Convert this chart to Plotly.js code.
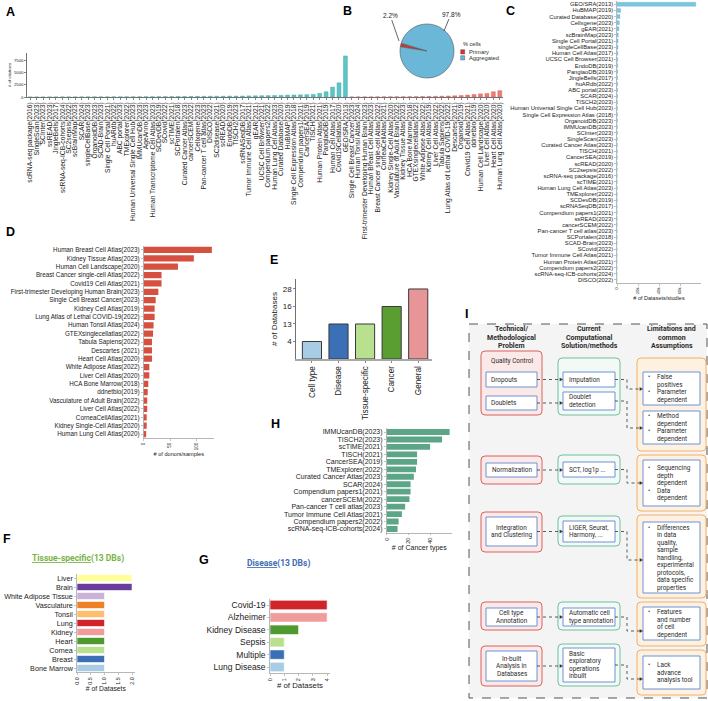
<!DOCTYPE html>
<html><head><meta charset="utf-8">
<script src="https://cdn.plot.ly/plotly-3.0.1.min.js"></script>
<style>html,body{margin:0;padding:0;background:#fff}#chart{width:708px;height:701px}</style>
</head><body><div id="chart"></div>
<script>
// ---------------- DATA ----------------
// A: citations (aggregated / primary)
const aggNames = ['scRNA-seq package(2016)','SingleScan(2023)','SCInter(2023)','ssREAD(2023)','JingleBells(2017)','scRNA-seq-ICB-cohorts(2024)','SC2sepsis(2022)','scBrainMap(2023)','SCAR(2024)','singleCellBase(2023)','OrganoidDB(2023)','SCAD-Brain(2023)','Single Cell Portal(2021)','huARdb(2022)','ABC portal(2023)','TMExplorer(2022)','Human Universal Single Cell Hub(2023)','IMMUcanDB(2023)','AgeAnno(2023)','Human Transcriptome Cell Atlas(2023)','SCDevDB(2019)','SCovid(2022)','scTIME(2021)','SCPortalen(2018)','Curated Cancer Atlas(2023)','cancerSCEM(2022)','Cellxgene(2023)','Pan-cancer T cell atlas(2023)','DISCO(2022)','SC2disease(2021)','scREAD(2020)','EndoDB(2019)','TISCH2(2023)','scRNASeqDB(2017)','Tumor Immune Cell Atlas(2021)','gEAR(2021)','UCSC Cell Browser(2021)','Compendium papers2(2022)','Human Lung Cell Atlas(2023)','Curated Database(2020)','HuBMAP(2019)','Single Cell Expression Atlas(2018)','Compendium papers1(2021)','CancerSEA(2019)','TISCH(2021)','Human Protein Atlas(2021)','PanglaoDB(2019)','Human Cell Atlas(2017)','Covid19Cellatlas(2020)','GEO/SRA(2013)'];
const aggCites = [10,12,15,18,20,22,25,28,30,33,35,38,40,45,48,50,55,60,65,70,75,80,90,100,110,120,130,140,150,160,170,180,190,210,230,250,270,290,310,330,400,420,450,480,550,750,1080,2030,2900,8400];
const primNames = ['Single Cell Breast Cancer(2023)','Human Tonsil Atlas(2024)','First-trimester Developing Human Brain(2023)','Human Breast Cell Atlas(2023)','Breast Cancer single-cell Atlas(2022)','CorneaCellAtlas(2021)','Kidney Single-Cell Atlas(2020)','Vasculature of Adult Brain(2022)','Kidney Tissue Atlas(2023)','HCA Bone Marrow(2018)','GTEXsinglecellatlas(2022)','White Adipose Atlas(2022)','Kidney Cell Atlas(2019)','Liver Cell Atlas(2022)','Tabula Sapiens(2022)','Lung Atlas of Lethal COVID-19(2022)','Descartes(2021)','Organoid(2019)','Covid19 Cell Atlas(2021)','ddnetbio(2019)','Human Cell Landscape(2020)','Liver Cell Atlas(2020)','Heart Cell Atlas(2020)','Human Lung Cell Atlas(2020)'];
const primCites = [20,25,30,35,40,45,50,55,60,70,80,100,120,140,170,200,250,300,400,520,650,720,1080,1300];
const citeTicks = [0,2500,5000,7500];

// B: % cells
const pieLabels = ['Primary','Aggregated'];
const pieValues = [2.2,97.8];

// C: datasets/studies
const cNames = ['GEO/SRA(2013)','HuBMAP(2019)','Curated Database(2020)','Cellxgene(2023)','gEAR(2021)','scBrainMap(2023)','Single Cell Portal(2021)','singleCellBase(2023)','Human Cell Atlas(2017)','UCSC Cell Browser(2021)','EndoDB(2019)','PanglaoDB(2019)','JingleBells(2017)','huARdb(2022)','ABC portal(2023)','SCAR(2024)','TISCH2(2023)','Human Universal Single Cell Hub(2023)','Single Cell Expression Atlas (2018)','OrganoidDB(2023)','IMMUcanDB(2023)','SCInter(2023)','SingleScan(2023)','Curated Cancer Atlas(2023)','TISCH(2021)','CancerSEA(2019)','scREAD(2020)','SC2sepsis(2022)','scRNA-seq package(2016)','scTIME(2021)','Human Lung Cell Atlas(2023)','TMExplorer(2022)','SCDevDB(2019)','scRNASeqDB(2017)','Compendium papers1(2021)','ssREAD(2023)','cancerSCEM(2022)','Pan-cancer T cell atlas(2023)','SCPortalen(2018)','SCAD-Brain(2023)','SCovid(2022)','Tumor Immune Cell Atlas(2021)','Human Protein Atlas(2021)','Compendium papers2(2022)','scRNA-seq-ICB-cohorts(2024)','DISCO(2022)'];
const cValues = [75000,3500,2800,2200,1800,1200,1000,900,800,700,650,600,550,500,460,420,400,380,360,340,320,300,280,260,240,220,200,190,180,170,160,150,140,130,120,110,100,90,80,70,60,50,40,30,20,10];
const cTicks = [0,20000,40000,60000];

// D: donors/samples
const dNames = ['Human Breast Cell Atlas(2023)','Kidney Tissue Atlas(2023)','Human Cell Landscape(2020)','Breast Cancer single-cell Atlas(2022)','Covid19 Cell Atlas(2021)','First-trimester Developing Human Brain(2023)','Single Cell Breast Cancer(2023)','Kidney Cell Atlas(2019)','Lung Atlas of Lethal COVID-19(2022)','Human Tonsil Atlas(2024)','GTEXsinglecellatlas(2022)','Tabula Sapiens(2022)','Descartes (2021)','Heart Cell Atlas(2020)','White Adipose Atlas(2022)','Liver Cell Atlas(2020)','HCA Bone Marrow(2018)','ddnetbio(2019)','Vasculature of Adult Brain(2022)','Liver Cell Atlas(2022)','CorneaCellAtlas(2021)','Kidney Single-Cell Atlas(2020)','Human Lung Cell Atlas(2020)'];
const dValues = [129,95,65,34,34,28,23,21,21,19,18,16,16,16,11,11,9,8,7,7,6,6,5];
const dTicks = [0,50,100];

// E: databases per type
const eCats = ['Cell type','Disease','Tissue-specific','Cancer','General'];
const eValues = [4,13,13,16,28];

// F: tissue-specific
const fNames = ['Liver','Brain','White Adipose Tissue','Vasculature','Tonsil','Lung','Kidney','Heart','Cornea','Breast','Bone Marrow'];
const fValues = [2,2,1,1,1,1,1,1,1,1,1];
const fTicks = [0,0.5,1,1.5,2];
const fTickText = ['0.0','0.5','1.0','1.5','2.0'];

// G: disease
const gNames = ['Covid-19','Alzheimer','Kidney Disease','Sepsis','Multiple','Lung Disease'];
const gValues = [4,4,2,1,1,1];
const gTicks = [0,1,2,3,4];

// H: cancer types
const hNames = ['IMMUcanDB(2023)','TISCH2(2023)','scTIME(2021)','TISCH(2021)','CancerSEA(2019)','TMExplorer(2022)','Curated Cancer Atlas(2023)','SCAR(2024)','Compendium papers1(2021)','cancerSCEM(2022)','Pan-cancer T cell atlas(2023)','Tumor Immune Cell Atlas(2021)','Compendium papers2(2022)','scRNA-seq-ICB-cohorts(2024)'];
const hValues = [58,51,40,28,28,27,25,22,22,21,17,14,11,10];
const hTicks = [0,20,40];

// I: flowchart text
const headers = ['Technical/\nMethodological\nProblem','Current\nComputational\nSolution/methods','Limitations and\ncommon\nAssumptions'];
const qcLabel = 'Quality Control';
const problems = [['Dropouts','Doublets'],['Normalization'],['Integration\nand Clustering'],['Cell type\nAnnotation'],['In-built\nAnalysis in\nDatabases']];
const solutions = [['Imputation','Doublet\ndetection'],['SCT, log1p ...'],['LIGER, Seurat,\nHarmony, ...'],['Automatic cell\ntype annotation'],['Basic\nexploratory\noperations\ninbuilt']];
const limitations = [
  [['False\npositives','Parameter\ndependent'],['Method\ndependent','Parameter\ndependent']],
  [['Sequencing\ndepth\ndependent','Data\ndependent']],
  [['Differences\nin data\nquality,\nsample\nhandling,\nexperimental\nprotocols,\ndata specific\nproperties']],
  [['Features\nand number\nof cell\ndependent']],
  [['Lack\nadvance\nanalysis tool']]
];

// ---------------- STYLE / LAYOUT ----------------
const W = 708, H = 701;
const X = (a,b) => [a/W, b/W];
const Y = (top,bottom) => [1-bottom/H, 1-top/H];
const FONT = 'Liberation Sans, Arial, Helvetica, sans-serif';
const RFONT = 'Roboto, Arial, sans-serif';
const aggColor = '#5CC6C4', primColor = '#EF7B72';
const pieColors = ['#D3362F','#6BB7D8'];
const eColors = ['#A9CCE5','#3B6FB6','#B9E08E','#5A9E32','#E89598'];
const fColors = ['#FFFF99','#6A3D9A','#CAB2D6','#EE8126','#FDBF6F','#D0242B','#F09C9C','#4E9A2E','#B9E08E','#3B6FB6','#A9CCE5'];
const gColors = ['#D0242B','#F09C9C','#4E9A2E','#B9E08E','#3B6FB6','#A9CCE5'];

function ax(o){
  return Object.assign({showgrid:false, zeroline:false, showline:true, linecolor:'#333', linewidth:0.7,
    ticks:'outside', ticklen:2, tickwidth:0.6, tickcolor:'#333', automargin:false, fixedrange:true,
    tickfont:{size:6, color:'#222', family:FONT}}, o);
}
function tf(s){ return {size:s, color:'#222', family:FONT}; }

const allNames = aggNames.concat(primNames);
const uniqE = [...new Set(eValues)].sort((a,b)=>a-b);
const eRank = eValues.map(v => uniqE.indexOf(v)+1);

const traces = [
  {type:'bar', x:aggNames, y:aggCites, xaxis:'x', yaxis:'y', width:0.62, marker:{color:aggColor, line:{color:'#3EA9A7', width:0.4}}, name:'Aggregated', showlegend:false},
  {type:'bar', x:primNames, y:primCites, xaxis:'x', yaxis:'y', width:0.62, marker:{color:primColor, line:{color:'#D65E55', width:0.4}}, name:'Primary', showlegend:false},
  {type:'pie', labels:pieLabels, values:pieValues, sort:false, direction:'clockwise', rotation:279,
   marker:{colors:pieColors, line:{color:'#555', width:0.6}}, textinfo:'none', showlegend:false,
   domain:{x:X(400,454), y:Y(24,78)}},
  {type:'bar', orientation:'h', y:cNames, x:cValues, xaxis:'x2', yaxis:'y2', width:0.65, marker:{color:'#7CC5E0', line:{color:'#5AAFD0', width:0.3}}, showlegend:false},
  {type:'bar', orientation:'h', y:dNames, x:dValues, xaxis:'x3', yaxis:'y3', width:0.75, marker:{color:'#D6503F'}, showlegend:false},
  {type:'bar', x:eCats, y:eRank, customdata:eValues, hovertemplate:'%{x}: %{customdata}<extra></extra>', xaxis:'x4', yaxis:'y4', width:0.72, marker:{color:eColors, line:{color:'#3a3a3a', width:1}}, showlegend:false},
  {type:'bar', orientation:'h', y:fNames, x:fValues, xaxis:'x5', yaxis:'y5', width:0.78, marker:{color:fColors, line:{color:'#fff', width:0.6}}, showlegend:false},
  {type:'bar', orientation:'h', y:gNames, x:gValues, xaxis:'x6', yaxis:'y6', width:0.76, marker:{color:gColors, line:{color:'#fff', width:0.6}}, showlegend:false},
  {type:'bar', orientation:'h', y:hNames, x:hValues, xaxis:'x7', yaxis:'y7', width:0.78, marker:{color:'#5CA687'}, showlegend:false},
  {type:'scatter', x:[], y:[], xaxis:'x8', yaxis:'y8', showlegend:false, hoverinfo:'skip'}
];

const layout = {
  width:W, height:H, margin:{l:0,r:0,t:0,b:0}, paper_bgcolor:'#fff', plot_bgcolor:'rgba(0,0,0,0)',
  barmode:'overlay', showlegend:false, font:{family:FONT, size:7, color:'#222'},
  xaxis: ax({domain:X(27,503), anchor:'y', type:'category', categoryorder:'array', categoryarray:allNames,
    tickmode:'array', tickvals:allNames, ticktext:allNames, tickangle:-90, range:[-0.5, allNames.length-0.5], tickfont:tf(6.7)}),
  yaxis: ax({domain:Y(53,97), anchor:'x', range:[0,9000], tickvals:citeTicks, tickfont:tf(4.3),
    title:{text:'# of citations', font:tf(4.3), standoff:2}}),
  xaxis2: ax({domain:X(617,701), anchor:'y2', range:[0,80000], tickvals:cTicks, tickangle:-90, tickfont:tf(4.3),
    linecolor:'#999', tickcolor:'#999', title:{text:'# of Datasets/studies', font:tf(5.5), standoff:2}}),
  yaxis2: ax({domain:Y(1.2,283), anchor:'x2', type:'category', categoryorder:'array', categoryarray:cNames,
    tickmode:'array', tickvals:cNames, ticktext:cNames, range:[cNames.length-0.5,-0.5], tickfont:tf(5.8), linecolor:'#999', tickcolor:'#999'}),
  xaxis3: ax({domain:X(143.5,214), anchor:'y3', range:[0,133], tickvals:dTicks, tickangle:-90, tickfont:tf(4.5),
    linecolor:'#999', tickcolor:'#999', title:{text:'# of donors/samples', font:tf(5.6), standoff:2}}),
  yaxis3: ax({domain:Y(245.8,438.2), anchor:'x3', type:'category', categoryorder:'array', categoryarray:dNames,
    tickmode:'array', tickvals:dNames, ticktext:dNames, range:[dNames.length-0.5,-0.5], tickfont:tf(6.3), linecolor:'#999', tickcolor:'#999'}),
  xaxis4: ax({domain:X(296,431.5), anchor:'y4', type:'category', categoryorder:'array', categoryarray:eCats,
    range:[-0.6,4.5], tickangle:-90, tickfont:tf(8.2), linecolor:'#A8A8A8', linewidth:1.8}),
  yaxis4: ax({domain:Y(279,359), anchor:'x4', range:[0,4.57], tickvals:uniqE.map((v,i)=>i+1), ticktext:uniqE.map(String),
    tickfont:tf(8), title:{text:'# of Databases', font:tf(8), standoff:3}}),
  xaxis5: ax({domain:X(77,134.75), anchor:'y5', range:[0,2.1], tickvals:fTicks, ticktext:fTickText, tickangle:-90, tickfont:tf(5.3),
    linecolor:'#999', tickcolor:'#999', title:{text:'# of Datasets', font:tf(6.8), standoff:2}}),
  yaxis5: ax({domain:Y(573.5,672.5), anchor:'x5', type:'category', categoryorder:'array', categoryarray:fNames,
    tickmode:'array', tickvals:fNames, ticktext:fNames, range:[fNames.length-0.5,-0.5], tickfont:tf(7.2), linecolor:'#999', tickcolor:'#999'}),
  xaxis6: ax({domain:X(270,330), anchor:'y6', range:[0,4.2], tickvals:gTicks, tickangle:-90, tickfont:tf(5.5),
    linecolor:'#999', tickcolor:'#999', title:{text:'# of Datasets', font:tf(7.8), standoff:2}}),
  yaxis6: ax({domain:Y(598.8,673.2), anchor:'x6', type:'category', categoryorder:'array', categoryarray:gNames,
    tickmode:'array', tickvals:gNames, ticktext:gNames, range:[gNames.length-0.5,-0.5], tickfont:tf(8.5), linecolor:'#999', tickcolor:'#999'}),
  xaxis7: ax({domain:X(386.7,451.8), anchor:'y7', range:[0,60], tickvals:hTicks, tickangle:-90, tickfont:tf(5.6),
    linecolor:'#999', tickcolor:'#999', title:{text:'# of Cancer types', font:tf(7), standoff:1}}),
  yaxis7: ax({domain:Y(428.3,532.7), anchor:'x7', type:'category', categoryorder:'array', categoryarray:hNames,
    tickmode:'array', tickvals:hNames, ticktext:hNames, range:[hNames.length-0.5,-0.5], tickfont:tf(7), linecolor:'#999', tickcolor:'#999'}),
  xaxis8: {domain:[0,1], anchor:'y8', range:[0,W], visible:false, fixedrange:true},
  yaxis8: {domain:[0,1], anchor:'x8', range:[H,0], visible:false, fixedrange:true},
  shapes:[], annotations:[]
};

const S = layout.shapes, A = layout.annotations;
function txt(x,y,text,o){
  o = o || {};
  A.push({x:x, y:y, text:text, xref:'x8', yref:'y8', showarrow:false,
    xanchor:o.xanchor||'center', yanchor:o.yanchor||'middle', align:o.align||'center',
    font:{size:o.size||6.4, family:o.family||RFONT, color:o.color||'#2b2b2b'}});
}
function rect(x0,y0,x1,y1,line,fill,dash,lw){
  S.push({type:'rect', xref:'x8', yref:'y8', x0:x0, x1:x1, y0:y0, y1:y1, layer:'above',
    line:{color:line, width:lw||1, dash:dash||'solid'}, fillcolor:fill});
}
function rrect(x0,y0,x1,y1,r,line,fill,lw){
  const p = `M${x0+r},${y0} L${x1-r},${y0} Q${x1},${y0} ${x1},${y0+r} L${x1},${y1-r} Q${x1},${y1} ${x1-r},${y1} L${x0+r},${y1} Q${x0},${y1} ${x0},${y1-r} L${x0},${y0+r} Q${x0},${y0} ${x0+r},${y0} Z`;
  S.push({type:'path', xref:'x8', yref:'y8', path:p, layer:'above', line:{color:line, width:lw||1}, fillcolor:fill});
}
function dotted(path){
  S.push({type:'path', xref:'x8', yref:'y8', path:path, layer:'above', line:{color:'#333', width:0.8, dash:'dot'}});
}
function head(x,y){
  S.push({type:'path', xref:'x8', yref:'y8', path:`M${x},${y} L${x-3.2},${y-1.6} L${x-3.2},${y+1.6} Z`, layer:'above', line:{color:'#333', width:0.3}, fillcolor:'#333'});
}
const LH = 7.5;
function lines(x, yMid, str, xanchor, size){
  const ls = str.split('\n');
  const y0 = yMid - (ls.length-1)*LH/2;
  ls.forEach((l,k) => txt(x, y0+k*LH, l, {xanchor:xanchor, size:size}));
}

[['A',10,12],['B',347,11],['C',510,11],['D',10,232],['E',274,260],['F',7,539],['G',204,560],['H',275,424],['I',466,314]]
  .forEach(([t,x,y]) => txt(x,y,'<b>'+t+'</b>',{size:12.5, family:FONT, color:'#000'}));

const pieSum = pieValues.reduce((a,b)=>a+b,0);
const pct = pieValues.map(v => (v/pieSum*100).toFixed(1)+'%');
A.push({x:399, y:41, xref:'x8', yref:'y8', text:pct[0], showarrow:true, arrowhead:0, arrowwidth:0.7, arrowcolor:'#222', ax:-9, ay:-26, font:{size:6.5, family:FONT, color:'#222'}});
A.push({x:444, y:31, xref:'x8', yref:'y8', text:pct[1], showarrow:true, arrowhead:0, arrowwidth:0.7, arrowcolor:'#222', ax:7, ay:-17, font:{size:6.5, family:FONT, color:'#222'}});
txt(461, 43.5, '% cells', {xanchor:'left', size:5.6, family:FONT});
pieLabels.forEach((l,i) => {
  rect(460.7, 49.7+i*6, 464.7, 54+i*6, '#444', pieColors[i], 'solid', 0.4);
  txt(467, 52+i*6, l, {xanchor:'left', size:5.8, family:FONT});
});

txt(78, 558, '<b><span style="text-decoration:underline">Tissue-specific</span>(13 DBs)</b>', {size:8.5, color:'#77B345'});
txt(278, 563, '<b><span style="text-decoration:underline">Disease</span>(13 DBs)</b>', {size:8.5, color:'#3D6CB3'});

rect(469, 324, 707, 698, '#555', '#F4F4F4', 'dash', 1);
const colX = [[481,542,486,537],[558,620,563,615],[637,706,643,700]];
const outerStyle = [['#D8625F','#FBE9E8'],['#6FBF9F','#F3FAF6'],['#F2B067','#FDF1E2']];
const rowsL = [
  {o:[[351,415],[358,415],[358,451]], i1:[[372,387],[396,410]], i2:[[372,387],[392,410]], i3:[[372,405],[411,444]], t3:[389,428]},
  {o:[[456,484],[455,484],[455,511]], i1:[[463,477]], i2:[[462,477]], i3:[[460,506]], t3:[483]},
  {o:[[512,552],[516,546],[515,598]], i1:[[517,546]], i2:[[521,542]], i3:[[522,593]], t3:[560]},
  {o:[[602,630],[602,630],[602,646]], i1:[[608,626]], i2:[[608,626]], i3:[[607,640]], t3:[631]},
  {o:[[646,686],[644,686],[650,695]], i1:[[651,681]], i2:[[648,682]], i3:[[656,689]], t3:[679]}
];
const innerLine = '#6F92D4';
headers.forEach((h,c) => {
  h.split('\n').forEach((l,k) => txt((colX[c][0]+colX[c][1])/2, 329+k*8.7, '<b>'+l+'</b>', {size:7}));
});
rowsL.forEach((R, r) => {
  R.o.forEach((yy, c) => rrect(colX[c][0], yy[0], colX[c][1], yy[1], 4, outerStyle[c][0], outerStyle[c][1], 1));
  if (r === 0) txt((colX[0][0]+colX[0][1])/2, 361, qcLabel, {size:6.4});
  R.i1.forEach((yy, j) => {
    rect(colX[0][2], yy[0], colX[0][3], yy[1], innerLine, '#fff', 'solid', 1);
    const mid = (yy[0]+yy[1])/2;
    if (r === 0) lines(colX[0][2]+3, mid, problems[r][j], 'left');
    else lines((colX[0][2]+colX[0][3])/2, mid, problems[r][j], 'center');
    dotted(`M${colX[0][3]},${mid} L${colX[1][2]-2},${mid}`);
    head(colX[1][2], mid);
  });
  R.i2.forEach((yy, j) => {
    rect(colX[1][2], yy[0], colX[1][3], yy[1], innerLine, '#fff', 'solid', 1);
    const mid = (yy[0]+yy[1])/2;
    lines(colX[1][2]+3.5, mid, solutions[r][j], 'left');
    const ty = R.t3[j];
    dotted(`M${colX[1][3]},${mid} L627,${mid} L627,${ty} L${colX[2][2]-2},${ty}`);
    head(colX[2][2], ty);
  });
  R.i3.forEach((yy, j) => {
    rect(colX[2][2], yy[0], colX[2][3], yy[1], innerLine, '#fff', 'solid', 1);
    const items = limitations[r][j];
    const n = items.reduce((s,it)=>s+it.split('\n').length, 0);
    let y = (yy[0]+yy[1])/2 - (n-1)*LH/2;
    items.forEach(it => {
      txt(648.5, y, '•', {size:6.4});
      it.split('\n').forEach(l => { txt(655, y, l, {xanchor:'left', size:6.4}); y += LH; });
    });
  });
});

Plotly.newPlot('chart', traces, layout, {staticPlot:true, displayModeBar:false});
</script>
</body></html>
